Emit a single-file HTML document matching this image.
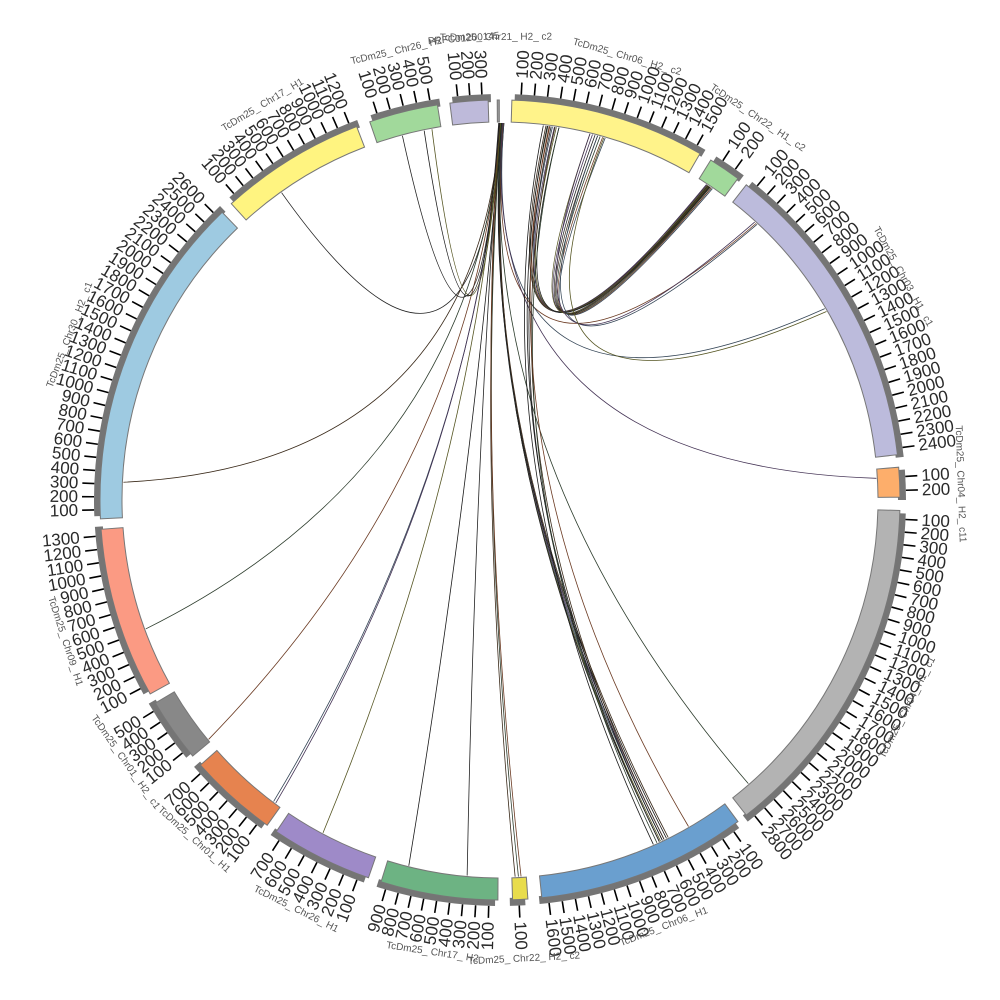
<!DOCTYPE html>
<html><head><meta charset="utf-8"><style>
html,body{margin:0;padding:0;background:#fff;}
svg{display:block;}
.n{font-family:"Liberation Sans",sans-serif;font-size:17px;fill:#2a2a2a;}
.nm{font-family:"Liberation Sans",sans-serif;font-size:10px;fill:#555;}
</style></head><body>
<svg id="s" width="1000" height="1000" viewBox="0 0 1000 1000" xmlns="http://www.w3.org/2000/svg">
<g id="links" fill="none" stroke-width="0.8"></g>
<g id="segs"></g>
<g id="names">
<text class="nm" text-anchor="middle" transform="rotate(-4.5 500 500)" x="500" y="40">PRFC01200145</text>
<text class="nm" text-anchor="middle" transform="rotate(-0.5 500 500)" x="500" y="40">TcDm25_ Chr21_ H2_ c2</text>
<text class="nm" text-anchor="middle" transform="rotate(16 500 500)" x="500" y="42">TcDm25_ Chr06_ H2_ c2</text>
<text class="nm" text-anchor="middle" transform="rotate(34 500 500)" x="500" y="42">TcDm25_ Chr22_ H1_ c2</text>
<text class="nm" text-anchor="middle" transform="rotate(61 500 500)" x="500" y="42">TcDm25_ Chr03_ H1_ c1</text>
<text class="nm" text-anchor="middle" transform="rotate(88 500 500)" x="500" y="42">TcDm25_ Chr04_ H2_ c11</text>
<text class="nm" text-anchor="middle" transform="rotate(-63 500 500)" x="500" y="960">TcDm25_ Chr04_ H1_ c1</text>
<text class="nm" text-anchor="middle" transform="rotate(-21 500 500)" x="500" y="960">TcDm25_ Chr06_ H1</text>
<text class="nm" text-anchor="middle" transform="rotate(-3 500 500)" x="500" y="962">TcDm25_ Chr22_ H2_ c2</text>
<text class="nm" text-anchor="middle" transform="rotate(8.5 500 500)" x="500" y="960">TcDm25_ Chr17_ H2</text>
<text class="nm" text-anchor="middle" transform="rotate(26.5 500 500)" x="500" y="960">TcDm25_ Chr26_ H1</text>
<text class="nm" text-anchor="middle" transform="rotate(42 500 500)" x="500" y="960">TcDm25_ Chr01_ H1</text>
<text class="nm" text-anchor="middle" transform="rotate(55 500 500)" x="500" y="960">TcDm25_ Chr01_ H2_ c1</text>
<text class="nm" text-anchor="middle" transform="rotate(72 500 500)" x="500" y="960">TcDm25_ Chr09_ H1</text>
<text class="nm" text-anchor="middle" transform="rotate(-69 500 500)" x="500" y="42">TcDm25_ Chr30_ H2_ c1</text>
<text class="nm" text-anchor="middle" transform="rotate(-31 500 500)" x="500" y="42">TcDm25_ Chr17_ H1</text>
<text class="nm" text-anchor="middle" transform="rotate(-13 500 500)" x="500" y="42">TcDm25_ Chr26_ H2</text>
</g>
</svg>
<script>
var NS="http://www.w3.org/2000/svg",C=500;
var R1=378,R2=400,G1=400,G2=406,T1=406,T2=418,TL=422;
var segs=[
[352.8,358.3,3,"#bebada"],
[359.6,359.9,0,"#999"],
[1.7,30,15,"#fff38a"],
[31.8,36.5,2,"#a1d99b"],
[38,83.5,24,"#bcbbdc"],
[85.3,89.6,2,"#fdae6b"],
[91.5,142,28,"#b3b3b3"],
[143.5,174,16,"#6a9fcf"],
[176,178.2,1,"#e8dc4c"],
[180.3,197.3,9,"#6db383"],
[199.2,214,7,"#9e8ac8"],
[215.6,228.5,7,"#e6834f"],
[230.2,239.5,5,"#888888"],
[241,265.8,13,"#fb9a83"],
[267.3,316,26,"#9ecae1"],
[317.8,339,12,"#fff480"],
[341,351,5,"#a1d99b"]
];
function pt(a,r){var t=a*Math.PI/180;return [C+r*Math.sin(t),C-r*Math.cos(t)];}
function arc(a1,a2,r1,r2){var p1=pt(a1,r2),p2=pt(a2,r2),p3=pt(a2,r1),p4=pt(a1,r1);var l=(a2-a1)>180?1:0;
return "M"+p1+" A"+r2+" "+r2+" 0 "+l+" 1 "+p2+" L"+p3+" A"+r1+" "+r1+" 0 "+l+" 0 "+p4+"Z";}
function el(t,a,p){var e=document.createElementNS(NS,t);for(var k in a)e.setAttribute(k,a[k]);p.appendChild(e);return e;}
var g=document.getElementById("segs");
segs.forEach(function(s){
 var a1=s[0],a2=s[1],n=s[2];
 if(n>0)el("path",{d:arc(a1+0.4,a2+0.4,G1-2,G2),fill:"#757575"},g);
 el("path",{d:arc(a1,a2,R1,R2),fill:s[3],stroke:"#777","stroke-width":"1"},g);
 if(n<=0)return;
 var step=(a2-a1)/(n+0.2);
 for(var i=1;i<=n;i++){
  var a=a1+step*(i-0.3);
  var p=pt(a,T1),q=pt(a,T2);
  el("line",{x1:p[0],y1:p[1],x2:q[0],y2:q[1],stroke:"#000","stroke-width":"1.6"},g);
  var lp=pt(a,TL);var t=el("text",{"class":"n",x:lp[0],y:lp[1]},g);
  var rot,anc;
  if(a<180){rot=a-90;anc="start";}else{rot=a+90;anc="end";}
  t.setAttribute("text-anchor",anc);t.setAttribute("dominant-baseline","central");
  t.setAttribute("transform","rotate("+rot+" "+lp[0]+" "+lp[1]+")");
  t.textContent=String(i*100);
 }
});
var L=document.getElementById("links");
var cols=["#222","#3a2a1a","#2b3b2b","#6b3a22","#334455","#443355","#555522","#1a1a1a"];
var links=[
[0,324.6],[0.1,272.7],[0.2,250],[0.1,230.6],[0.3,216.9],[0.2,216.5],[0.1,208],[0.2,194],[0,185],[0.1,177.7],[0.2,177.2],[-0.1,176.8],
[0.3,154.5],[0.4,154.2],[0.5,154.8],[0.2,153.8],[0.6,155],[0.4,153.5],[0.3,138.8],[0.5,42.8],[0.6,59.5],[0.4,86.7],[0.1,349.6],[-0.2,348.4],[-0.1,345],
[7,33.5],[7.3,33.7],[7.6,33.9],[8,34.1],[8.3,33.3],[8.6,33.6],[9,33.8],
[14.6,33.5],[15,33.7],[15.4,33.9],[15.8,34.1],[16.2,34.3],[14.2,33.2],[13.8,33.4],
[7.2,154.5],[7.8,155],[8.4,154.2],[9,155.4],[7.5,150],[15,43],[13.8,42.5],[16,60],[6.6,156]
];
links.forEach(function(l,i){
 var p=pt(l[0],R1-1),q=pt(l[1],R1-1);
 el("path",{d:"M"+p+" Q475 465 "+q,stroke:cols[i%cols.length]},L);
});
</script>
</body></html>
